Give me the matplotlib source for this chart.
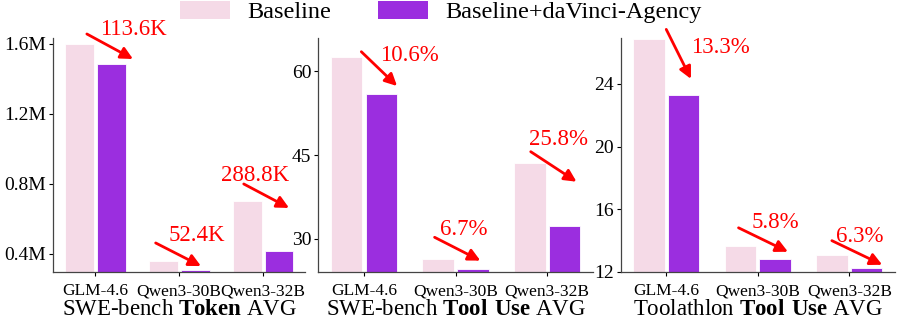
import numpy as np
import matplotlib
matplotlib.use("Agg")
import matplotlib.pyplot as plt
from matplotlib.patches import Patch
from matplotlib.ticker import FixedLocator, FuncFormatter

plt.rcParams["font.family"] = ["Liberation Serif", "DejaVu Serif"]
plt.rcParams["mathtext.fontset"] = "custom"
plt.rcParams["mathtext.rm"] = "Liberation Serif"
plt.rcParams["mathtext.bf"] = "Liberation Serif:bold"

MODELS = ["GLM-4.6", "Qwen3-30B", "Qwen3-32B"]

# SWE-bench tokens (raw counts)
token_base   = [1_600_000, 360_000, 703_000]
token_agency = [1_486_400, 307_600, 414_200]
token_gain   = ["113.6K", "52.4K", "288.8K"]

# SWE-bench tool use
swe_tool_base   = [62.55, 26.43, 43.57]
swe_tool_agency = [55.92, 24.66, 32.33]
swe_tool_gain   = ["10.6%", "6.7%", "25.8%"]

# Toolathlon tool use
tla_tool_base   = [26.88, 13.65, 13.06]
tla_tool_agency = [23.31, 12.86, 12.24]
tla_tool_gain   = ["13.3%", "5.8%", "6.3%"]

BASE_COLOR   = "#F5DAE7"
AGENCY_COLOR = "#9B2EDF"
ARROW_COLOR  = "red"

# layout: (x start off, y start, x end off, y end, x text off, y text) per group
ARROWS_1 = [(-0.10, 1.657e6, 0.45, 1.514e6, 0.45, 1.683e6),
            (-0.28, 0.463e6, 0.26, 0.331e6, 0.21, 0.503e6),
            (-0.23, 0.800e6, 0.31, 0.663e6, -0.09, 0.849e6)]
ARROWS_2 = [(-0.03, 63.45, 0.36, 57.32, 0.49, 62.86),
            (-0.23, 30.30, 0.27, 26.13, 0.09, 31.70),
            (-0.18, 45.59, 0.32, 40.23, 0.12, 47.68)]
ARROWS_3 = [(0.00, 27.48, 0.27, 24.32, 0.59, 26.32),
            (-0.21, 14.82, 0.33, 13.29, 0.19, 15.19),
            (-0.19, 14.00, 0.36, 12.46, 0.12, 14.29)]

W, H = 897, 325
fig = plt.figure(figsize=(W / 100, H / 100), dpi=100)

bottom = (H - 272) / H
height = (272 - 38) / H
ax1 = fig.add_axes([53.3 / W, bottom, 251.7 / W, height])
ax2 = fig.add_axes([318.3 / W, bottom, 274.7 / W, height])
ax3 = fig.add_axes([620.5 / W, bottom, 274.5 / W, height])

panels = [
    (ax1, token_base, token_agency, token_gain, ARROWS_1,
     r"SWE-bench $\mathbf{Token}$ AVG", (0.297e6, 1.634e6), [0.4e6, 0.8e6, 1.2e6, 1.6e6]),
    (ax2, swe_tool_base, swe_tool_agency, swe_tool_gain, ARROWS_2,
     r"SWE-bench $\mathbf{Tool\ Use}$ AVG", (24.1, 65.9), [30, 45, 60]),
    (ax3, tla_tool_base, tla_tool_agency, tla_tool_gain, ARROWS_3,
     r"Toolathlon $\mathbf{Tool\ Use}$ AVG", (12, 26.93), [12, 16, 20, 24]),
]

x = np.arange(len(MODELS))
width = 0.345
off = 0.19

for ax, base, agency, gain, arrows, xlabel, ylim, yticks in panels:
    ax.bar(x - off, base, width, color=BASE_COLOR, edgecolor="white", linewidth=0.6)
    ax.bar(x + off, agency, width, color=AGENCY_COLOR, edgecolor="white", linewidth=0.6)

    for i, (xs, ys, xe, ye, xt, yt) in enumerate(arrows):
        ax.annotate("", xy=(i + xe, ye), xytext=(i + xs, ys),
                    arrowprops=dict(arrowstyle="-|>", color=ARROW_COLOR, lw=2,
                                    mutation_scale=18, shrinkA=0, shrinkB=0),
                    annotation_clip=False)
        ax.text(i + xt, yt, gain[i], color=ARROW_COLOR, fontsize=16.5,
                ha="center", va="center", clip_on=False)

    ax.set_xlim(-0.5, 2.5)
    ax.set_ylim(*ylim)
    ax.yaxis.set_major_locator(FixedLocator(yticks))
    ax.set_xticks(x)
    ax.set_xticklabels(MODELS, fontsize=12.5)
    ax.set_xlabel(xlabel, fontsize=16.5, labelpad=0)
    ax.tick_params(axis="y", labelsize=14, length=3, width=0.8, pad=2)
    ax.tick_params(axis="x", length=3, width=0.8, pad=5)
    for side in ["top", "right"]:
        ax.spines[side].set_visible(False)
    for side in ["left", "bottom"]:
        ax.spines[side].set_color("#444444")
        ax.spines[side].set_linewidth(0.9)

ax1.yaxis.set_major_formatter(FuncFormatter(lambda v, p: f"{v / 1e6:.1f}M"))
ax2.yaxis.set_major_formatter(FuncFormatter(lambda v, p: f"{v:.0f}"))
ax3.yaxis.set_major_formatter(FuncFormatter(lambda v, p: f"{v:.0f}"))

handles = [Patch(facecolor=BASE_COLOR, label="Baseline"),
           Patch(facecolor=AGENCY_COLOR, label="Baseline+daVinci-Agency")]
fig.legend(handles=handles, loc="center", bbox_to_anchor=(441 / W, 1 - 12 / H),
           ncol=2, frameon=False, fontsize=17.5, handlelength=2.05, handleheight=0.8,
           handletextpad=0.7, columnspacing=1.95, borderaxespad=0, borderpad=0)

fig.savefig("out.png", dpi=100)
